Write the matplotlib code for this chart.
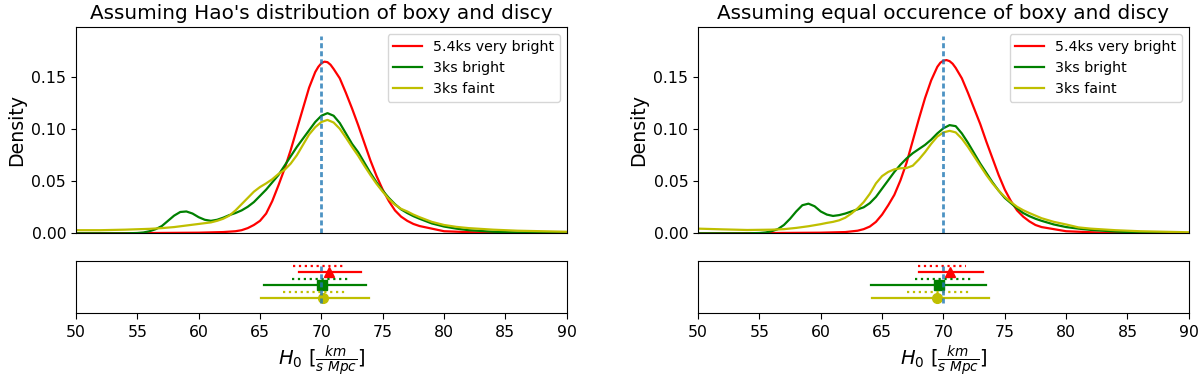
import numpy as np
import matplotlib
matplotlib.use('Agg')
import matplotlib.pyplot as plt

# density curves (H0 in km/s/Mpc, density)
# left panel: Hao's distribution of boxy and discy
hao_red_x = [50, 55, 60, 62, 63, 63.5, 64, 64.5, 65, 65.5, 66, 66.5, 67, 67.5, 68, 68.5, 69, 69.5, 69.75, 70, 70.25,
             70.5, 70.75, 71, 71.5, 72, 72.5, 73, 73.5, 74, 74.5, 75, 75.5, 76, 76.5, 77, 77.5, 78, 80, 83, 86, 90]
hao_red_y = [0.0, 0.0002, 0.0006, 0.0012, 0.002, 0.003, 0.005, 0.008, 0.012, 0.019, 0.031, 0.046, 0.062, 0.08,
             0.1, 0.12, 0.14, 0.155, 0.160, 0.1635, 0.165, 0.1645, 0.162, 0.158, 0.149, 0.135, 0.12, 0.104, 0.087,
             0.07, 0.055, 0.042, 0.031, 0.022, 0.016, 0.012, 0.009, 0.007, 0.002, 0.0007, 0.0002, 0.0]

hao_green_x = [50, 54, 55, 55.5, 56, 56.5, 57, 57.5, 58, 58.5, 59, 59.5, 60, 60.5, 61, 61.5, 62, 62.5, 63, 63.5,
               64, 64.5, 65, 65.5, 66, 66.5, 67, 67.5, 68, 68.5, 69, 69.5, 70, 70.5, 71, 71.5, 72, 72.5, 73,
               73.5, 74, 74.5, 75, 75.5, 76, 76.5, 77, 77.5, 78, 79, 80, 81, 82, 84, 86, 90]
hao_green_y = [0.0, 0.0, 0.0003, 0.0008, 0.002, 0.004, 0.007, 0.012, 0.017, 0.0205, 0.021, 0.019, 0.0155, 0.013,
               0.012, 0.013, 0.015, 0.0175, 0.0195, 0.022, 0.0255, 0.03, 0.036, 0.042, 0.049, 0.056, 0.065,
               0.074, 0.083, 0.091, 0.099, 0.107, 0.113, 0.1155, 0.113, 0.106, 0.096, 0.086, 0.078, 0.068,
               0.058, 0.049, 0.041, 0.034, 0.028, 0.023, 0.0195, 0.0165, 0.014, 0.0095, 0.0065, 0.0045, 0.003,
               0.0015, 0.0008, 0.0002]

hao_yellow_x = [50, 52, 54, 56, 57, 58, 59, 60, 61, 61.5, 62, 62.5, 63, 63.5, 64, 64.5, 65, 65.5, 66, 66.5, 67,
                67.5, 68, 68.5, 69, 69.5, 70, 70.5, 71, 71.5, 72, 72.5, 73, 73.5, 74, 74.5, 75, 75.5, 76, 76.5,
                77, 77.5, 78, 79, 80, 81, 82, 84, 86, 88, 90]
hao_yellow_y = [0.003, 0.003, 0.0035, 0.0043, 0.005, 0.006, 0.0075, 0.009, 0.0105, 0.012, 0.014, 0.017, 0.022,
                0.028, 0.034, 0.04, 0.0445, 0.048, 0.052, 0.057, 0.061, 0.067, 0.075, 0.085, 0.095, 0.102, 0.107,
                0.109, 0.1065, 0.1005, 0.092, 0.083, 0.0745, 0.065, 0.056, 0.0475, 0.04, 0.033, 0.0275, 0.0235,
                0.021, 0.018, 0.0155, 0.011, 0.008, 0.0062, 0.005, 0.0035, 0.0025, 0.002, 0.0015]

# right panel: equal occurence of boxy and discy
eq_red_x = [50, 55, 60, 62, 63, 63.5, 64, 64.5, 65, 65.5, 66, 66.5, 67, 67.5, 68, 68.5, 69, 69.5, 69.75, 70, 70.25,
            70.5, 70.75, 71, 71.5, 72, 72.5, 73, 73.5, 74, 74.5, 75, 75.5, 76, 76.5, 77, 77.5, 78, 80, 83, 86, 90]
eq_red_y = [0.0, 0.0002, 0.0006, 0.0012, 0.0025, 0.004, 0.0065, 0.011, 0.018, 0.027, 0.037, 0.051, 0.068, 0.089,
            0.11, 0.13, 0.147, 0.16, 0.164, 0.166, 0.1665, 0.1655, 0.163, 0.159, 0.149, 0.135, 0.12, 0.105,
            0.088, 0.072, 0.056, 0.042, 0.031, 0.022, 0.016, 0.0115, 0.008, 0.006, 0.002, 0.0006, 0.0002, 0.0]

eq_green_x = [50, 54, 55, 55.5, 56, 56.5, 57, 57.5, 58, 58.5, 59, 59.5, 60, 60.5, 61, 61.5, 62, 62.5, 63, 63.5,
              64, 64.5, 65, 65.5, 66, 66.5, 67, 67.5, 68, 68.5, 69, 69.5, 70, 70.5, 71, 71.5, 72, 72.5, 73, 73.5,
              74, 74.5, 75, 75.5, 76, 76.5, 77, 77.5, 78, 79, 80, 81, 82, 84, 86, 90]
eq_green_y = [0.0, 0.0, 0.0003, 0.0008, 0.002, 0.004, 0.008, 0.014, 0.021, 0.027, 0.0285, 0.026, 0.021, 0.018,
              0.0167, 0.0175, 0.019, 0.021, 0.023, 0.025, 0.029, 0.035, 0.043, 0.051, 0.059, 0.066, 0.072, 0.077,
              0.081, 0.085, 0.09, 0.096, 0.101, 0.104, 0.103, 0.096, 0.087, 0.077, 0.067, 0.058, 0.049, 0.041,
              0.034, 0.029, 0.024, 0.0195, 0.0165, 0.014, 0.012, 0.0085, 0.006, 0.0045, 0.0033, 0.0017, 0.0008,
              0.0002]

eq_yellow_x = [50, 52, 54, 56, 57, 58, 59, 60, 60.5, 61, 61.5, 62, 62.5, 63, 63.5, 64, 64.5, 65, 65.5, 66, 66.5,
               67, 67.5, 68, 68.5, 69, 69.5, 70, 70.5, 71, 71.5, 72, 72.5, 73, 73.5, 74, 74.5, 75, 75.5, 76, 76.5,
               77, 77.5, 78, 79, 80, 81, 82, 84, 86, 88, 90]
eq_yellow_y = [0.0045, 0.0038, 0.0032, 0.0035, 0.004, 0.0052, 0.0068, 0.0088, 0.01, 0.011, 0.0125, 0.015, 0.019,
               0.024, 0.03, 0.038, 0.048, 0.055, 0.059, 0.0615, 0.0625, 0.0628, 0.065, 0.071, 0.078, 0.086, 0.093,
               0.097, 0.0985, 0.097, 0.091, 0.083, 0.074, 0.065, 0.056, 0.048, 0.041, 0.035, 0.03, 0.0255, 0.0222,
               0.0195, 0.017, 0.0145, 0.011, 0.0085, 0.0057, 0.0045, 0.003, 0.002, 0.0015, 0.001]

# interval summaries for the strip below: (low, high) for dotted and solid, plus the point
hao_dotted = [(67.7, 72.0), (67.6, 72.3), (66.9, 72.0)]
hao_solid = [(68.2, 73.2), (65.3, 73.6), (65.1, 73.9)]
hao_point = [70.6, 70.05, 70.1]
eq_dotted = [(67.9, 71.8), (67.7, 72.4), (67.0, 72.15)]
eq_solid = [(68.0, 73.2), (64.1, 73.45), (64.2, 73.7)]
eq_point = [70.5, 69.6, 69.5]

labels = ['5.4ks very bright', '3ks bright', '3ks faint']
colors = ['r', 'g', 'y']
markers = ['^', 's', 'o']
H0_true = 70

fig = plt.figure(figsize=(12, 3.79), dpi=100)

panels = [
    ("Assuming Hao's distribution of boxy and discy", 0.0633,
     [(hao_red_x, hao_red_y), (hao_green_x, hao_green_y), (hao_yellow_x, hao_yellow_y)],
     hao_dotted, hao_solid, hao_point),
    ("Assuming equal occurence of boxy and discy", 0.5817,
     [(eq_red_x, eq_red_y), (eq_green_x, eq_green_y), (eq_yellow_x, eq_yellow_y)],
     eq_dotted, eq_solid, eq_point),
]

for title, left, curves, dotted, solid, point in panels:
    ax = fig.add_axes([left, 0.3844, 0.409, 0.5435])
    for (cx, cy), c, lab in zip(curves, colors, labels):
        ax.plot(cx, cy, color=c, lw=1.6, label=lab)
    ax.plot([H0_true, H0_true], [0, 0.19], color='C0', lw=2, alpha=0.8, dashes=(1.8, 1.1))
    ax.set_xlim(50, 90)
    ax.set_ylim(0, 0.198)
    ax.set_xticks([])
    ax.set_yticks([0, 0.05, 0.10, 0.15])
    ax.tick_params(labelsize=11.3)
    ax.set_ylabel('Density', fontsize=13.6)
    ax.set_title(title, fontsize=14.4)
    ax.legend(loc='upper right', fontsize=10.2)

    bx = fig.add_axes([left, 0.1749, 0.409, 0.1364])
    for i in range(3):
        row = 6 - 2 * i
        bx.plot(dotted[i], [row, row], color=colors[i], ls=':', lw=1.6)
        bx.plot(solid[i], [row - 1, row - 1], color=colors[i], ls='-', lw=1.6)
        bx.plot(point[i], row - 1, marker=markers[i], color=colors[i], ms=7)
    bx.plot([H0_true, H0_true], [0.3, 6], color='C0', lw=2, alpha=0.8, dashes=(1.8, 1.1), zorder=5)
    bx.set_xlim(50, 90)
    bx.set_ylim(-1.2, 6.75)
    bx.set_yticks([])
    bx.set_xticks(np.arange(50, 91, 5))
    bx.tick_params(labelsize=11.3, length=4.5, pad=4)
    bx.set_xlabel(r'$H_0\ [\frac{km}{s\ Mpc}]$', fontsize=14, labelpad=3)

fig.savefig('out.png', dpi=100)
